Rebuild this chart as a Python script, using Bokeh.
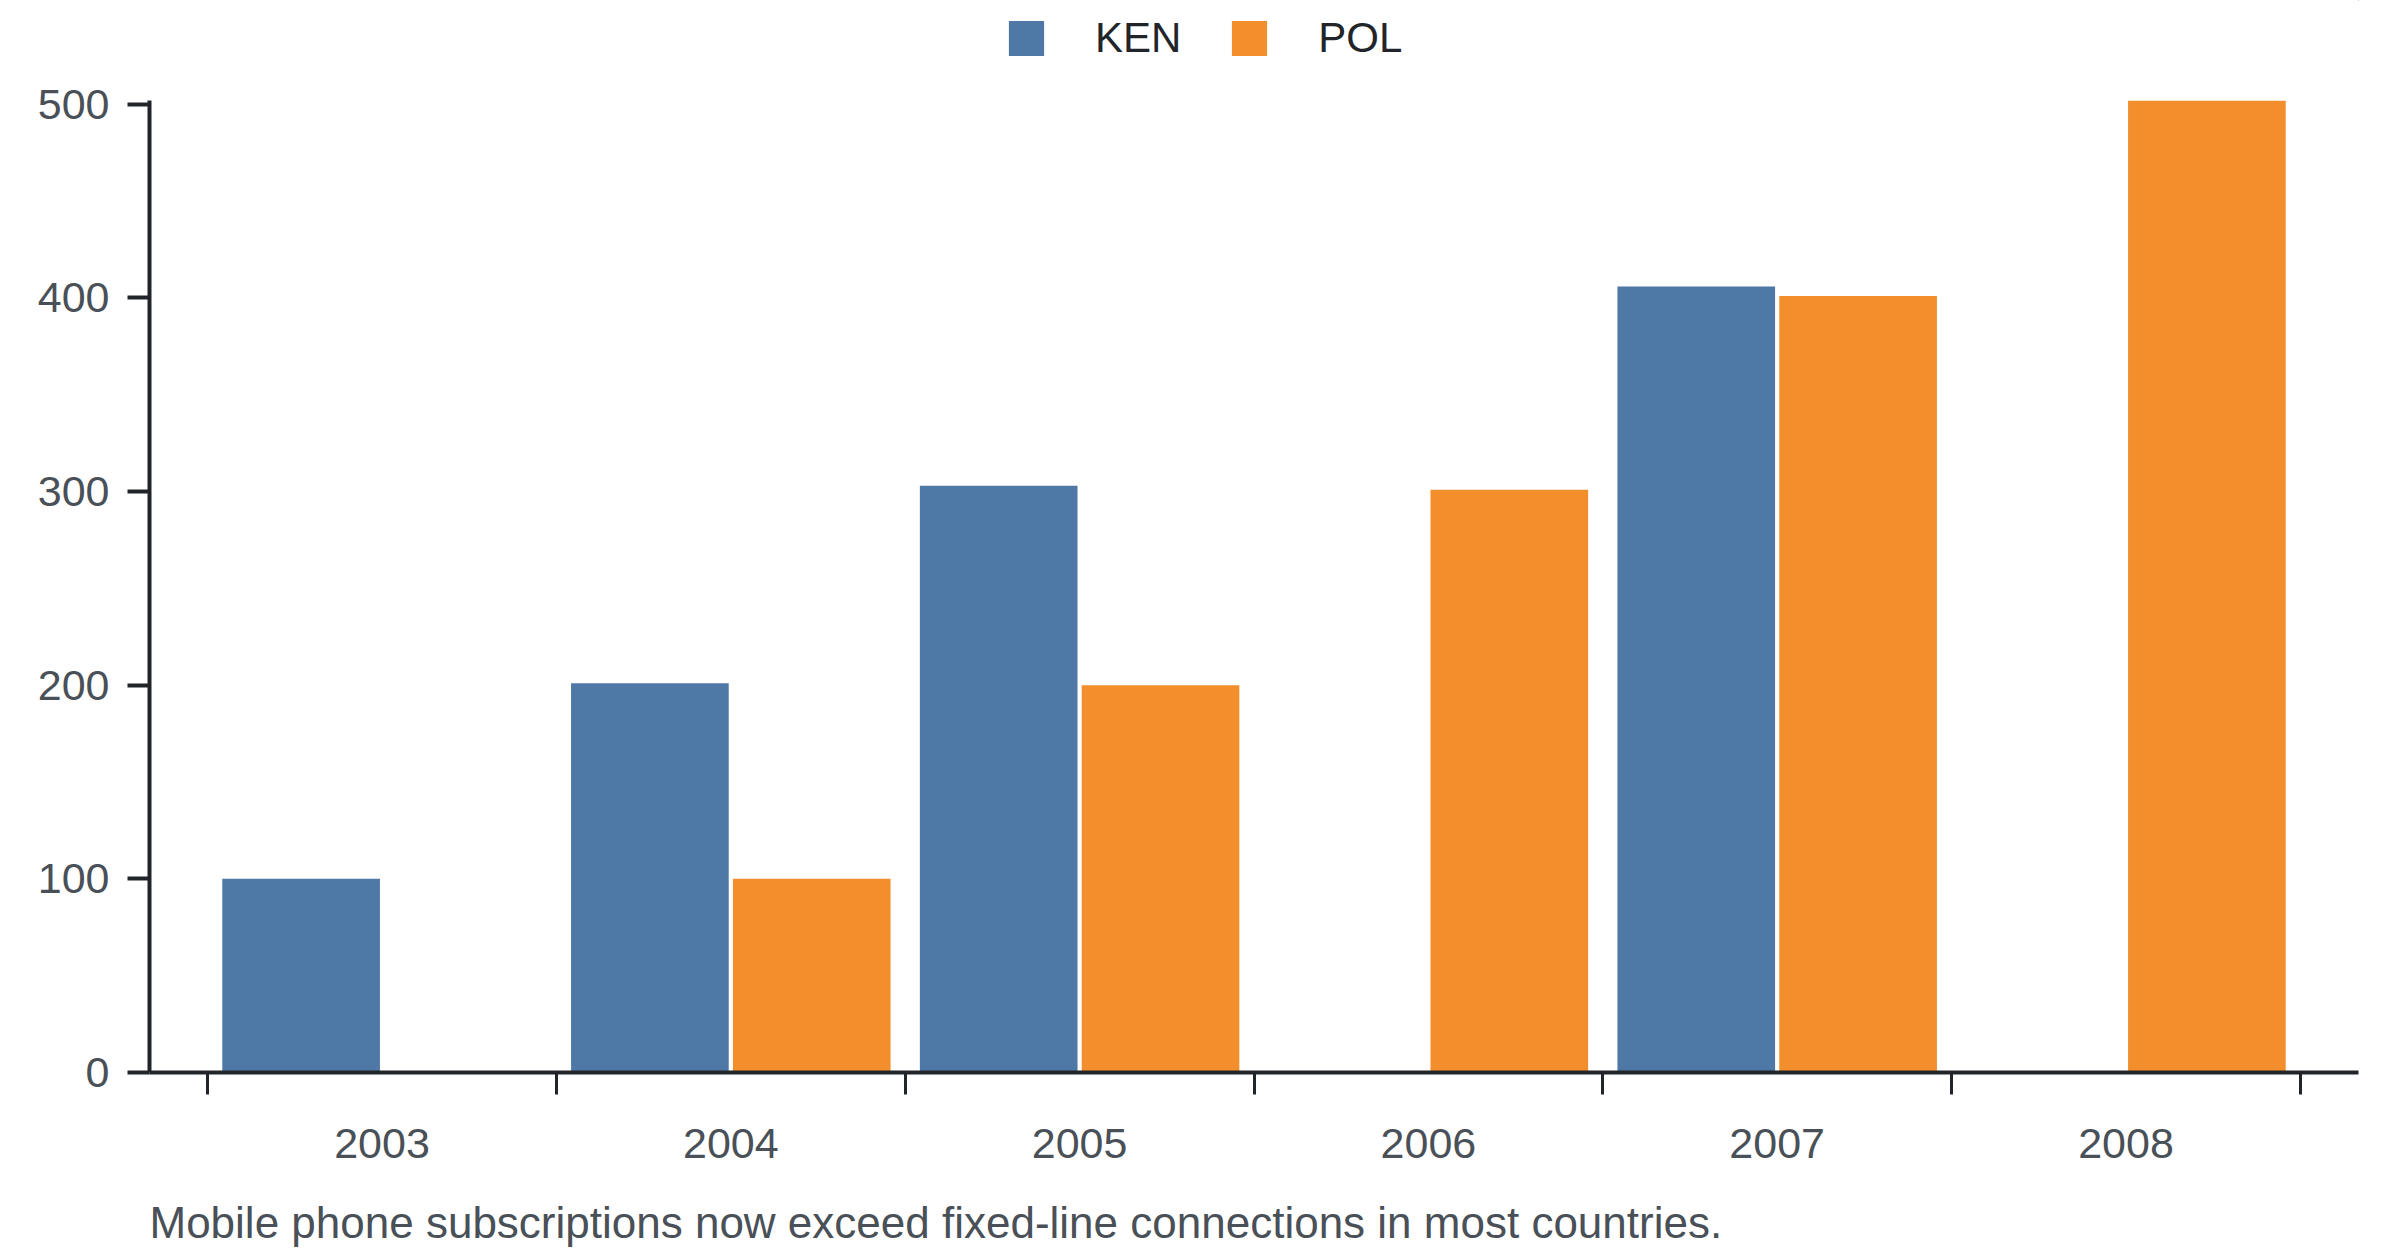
from bokeh.plotting import figure
from bokeh.layouts import column
from bokeh.models import ColumnDataSource, FixedTicker, Legend, LegendItem, Label, Range1d
from bokeh.transform import dodge
from bokeh.embed import file_html
from bokeh.resources import INLINE

years = [2003, 2004, 2005, 2006, 2007, 2008]
ken = [100, 201, 303, None, 406, None]
pol = [None, 100, 200, 301, 401, 502]
series_names = ["KEN", "POL"]
colors = ["#4e79a7", "#f28e2b"]
y_ticks = [0, 100, 200, 300, 400, 500]
caption = "Mobile phone subscriptions now exceed fixed-line connections in most countries."

FONT = "Liberation Sans"
DARK = "#212529"
GRAY = "#495057"
W = 2400
LEG_H = 70
CAP_H = 74
MAIN_H = 1256 - LEG_H - CAP_H
BORDER_L = 149
BORDER_R = 42


def src(vals):
    xs = [y for y, v in zip(years, vals) if v is not None]
    vs = [v for v in vals if v is not None]
    return ColumnDataSource(dict(year=xs, value=vs))


ymax = max(v for v in ken + pol if v is not None)
ken_src = src(ken)
pol_src = src(pol)


def strip(h):
    f = figure(width=W, height=h, output_backend="svg", toolbar_location=None,
               x_range=Range1d(0, 1), y_range=Range1d(-2, -1),
               x_axis_location=None, y_axis_location=None,
               min_border_left=BORDER_L, min_border_right=BORDER_R,
               min_border_top=0, min_border_bottom=0)
    f.grid.visible = False
    f.outline_line_color = None
    return f


# ---- legend strip (top); its bars lie outside its ranges, only the legend shows ----
lg = strip(LEG_H)
d1 = lg.vbar(x="year", top="value", width=0.452, source=ken_src,
             fill_color=colors[0], line_color=None)
d2 = lg.vbar(x="year", top="value", width=0.452, source=pol_src,
             fill_color=colors[1], line_color=None)
legend = Legend(items=[LegendItem(label=series_names[0], renderers=[d1]),
                       LegendItem(label=series_names[1], renderers=[d2])],
                orientation="horizontal", location=(855, 8),
                glyph_width=44, glyph_height=44, label_standoff=47, spacing=46,
                padding=0, margin=0, border_line_color=None, background_fill_alpha=0,
                label_text_font=FONT, label_text_font_size="42px", label_text_color=DARK)
lg.add_layout(legend, "center")

# ---- main chart ----
p = figure(width=W, height=MAIN_H, output_backend="svg", toolbar_location=None,
           x_range=Range1d(years[0] - 2 / 3, years[-1] + 2 / 3),
           y_range=Range1d(0, ymax),
           min_border_left=BORDER_L, min_border_right=BORDER_R, min_border_top=100 - LEG_H,
           min_border_bottom=MAIN_H - (1072 - LEG_H))
p.outline_line_color = None
p.xgrid.visible = False
p.ygrid.visible = False
p.background_fill_color = "white"

p.vbar(x=dodge("year", -0.232), top="value", width=0.452, source=ken_src,
       fill_color=colors[0], line_color=None)
p.vbar(x=dodge("year", 0.232), top="value", width=0.452, source=pol_src,
       fill_color=colors[1], line_color=None)

# x axis
xa = p.xaxis[0]
xa.ticker = FixedTicker(ticks=years, minor_ticks=[y - 0.5 for y in years] + [years[-1] + 0.5])
xa.major_tick_out = 0
xa.major_tick_in = 0
xa.minor_tick_out = 22
xa.minor_tick_in = 0
xa.minor_tick_line_width = 3
xa.minor_tick_line_color = DARK
xa.axis_line_width = 4
xa.axis_line_color = DARK
xa.major_label_text_font = FONT
xa.major_label_text_font_size = "43px"
xa.major_label_text_color = GRAY
xa.major_label_standoff = 34

# y axis
ya = p.yaxis[0]
ya.ticker = FixedTicker(ticks=y_ticks, minor_ticks=[])
ya.major_tick_out = 22
ya.major_tick_in = 0
ya.major_tick_line_width = 4
ya.major_tick_line_color = DARK
ya.minor_tick_out = 0
ya.minor_tick_in = 0
ya.axis_line_width = 4
ya.axis_line_color = DARK
ya.major_label_text_font = FONT
ya.major_label_text_font_size = "43px"
ya.major_label_text_color = GRAY
ya.major_label_standoff = 18

# ---- caption strip (bottom); its frame is aligned with the chart frame ----
cs = strip(CAP_H)
cs.add_layout(Label(x=0, y=34, x_units="screen", y_units="screen", text=caption,
                    text_font=FONT, text_font_size="44px", text_color=GRAY,
                    text_baseline="alphabetic", text_align="left"))

open("out.html", "w").write(file_html(column(lg, p, cs, spacing=0), INLINE))
